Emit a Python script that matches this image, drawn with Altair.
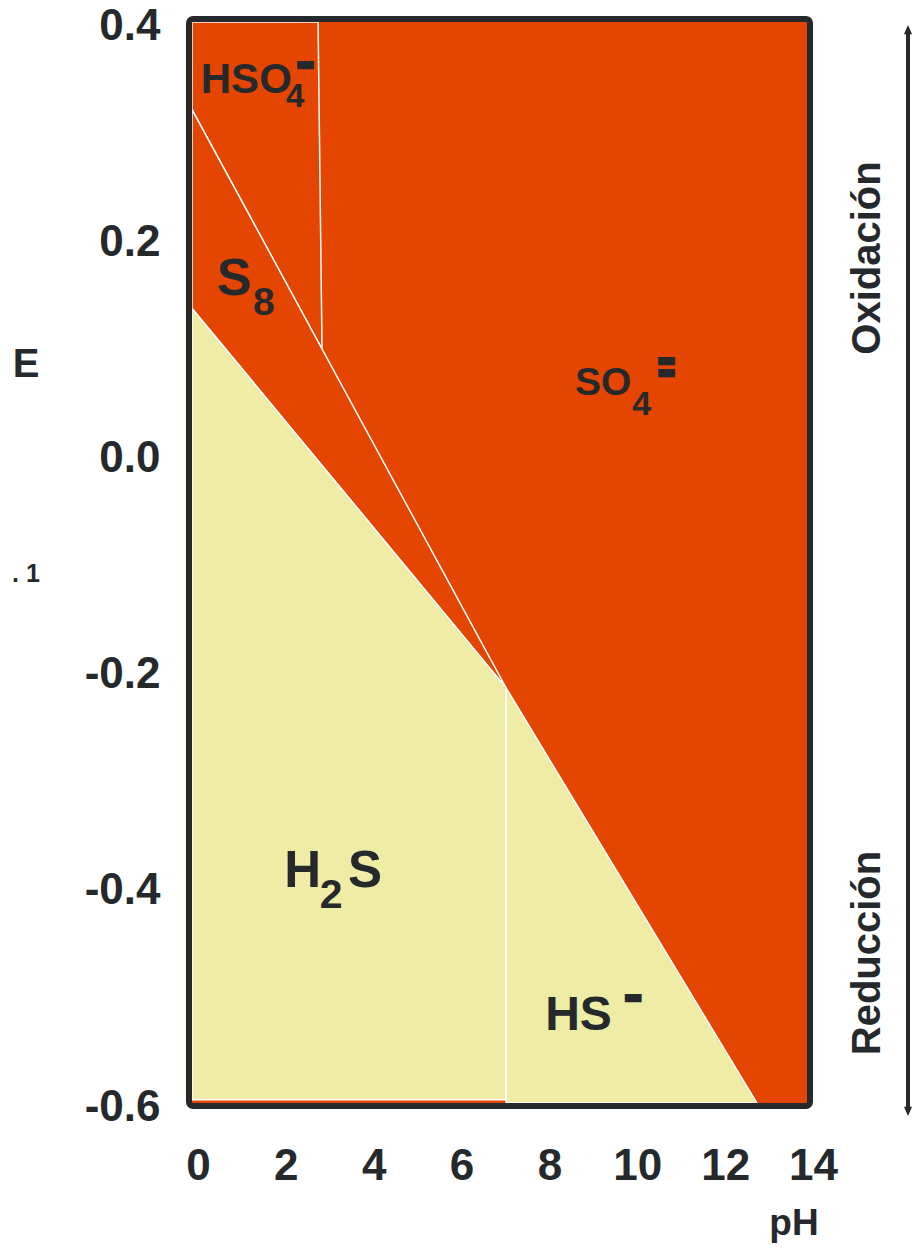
import altair as alt
import pandas as pd

# ---- axis ticks ----
ph_ticks = [0, 2, 4, 6, 8, 10, 12, 14]
e_ticks = [-0.6, -0.4, -0.2, 0.0, 0.2, 0.4]

# ---- stability fields (pH, E vertices) ----
hso4_ph = [0, 2.87, 2.96, 0]
hso4_e = [0.4, 0.4, 0.097, 0.319]
s8_ph = [0, 7.15, 0]
s8_e = [0.319, -0.216, 0.135]
h2s_ph = [0, 7.15, 7.15, 0]
h2s_e = [0.135, -0.216, -0.597, -0.597]
hs_ph = [7.15, 12.86, 7.15]
hs_e = [-0.216, -0.6, -0.6]

# ---- species labels ----
lab_text = ["HSO", "S", "SO", "H", "S", "HS"]
lab_ph = [0.2, 0.57, 8.72, 2.1, 3.55, 8.04]
lab_e = [0.334, 0.1475, 0.055, -0.400, -0.400, -0.5325]
lab_size = [42, 52, 39, 51, 51, 48]

sub_text = ["4", "8", "4", "2"]
sub_ph = [2.14, 1.39, 10.02, 2.91]
sub_e = [0.321, 0.129, 0.0364, -0.4196]
sub_size = [33, 39, 34, 41]

# charge bars (one per "-" and two for "=")
chg_ph = [2.58, 10.8, 10.8, 10.04]
chg_e = [0.361, 0.0869, 0.0762, -0.502]

RED = "#e44500"
YELLOW = "#eeeca5"
INK = "#25292c"
FONT = "Liberation Sans"

W, H = 615, 1081

xs = alt.Scale(domain=[0, 14], nice=False, zero=False)
ys = alt.Scale(domain=[-0.6, 0.4], nice=False, zero=False)
xaxis = alt.Axis(values=ph_ticks, format="d", title=None, ticks=False, domain=False,
                 grid=False, labelFontSize=44, labelFont=FONT, labelFontWeight="bold",
                 labelColor=INK, labelPadding=41, labelOffset=6, labelFlush=False)
yaxis = alt.Axis(values=e_ticks, title=None, ticks=False, domain=False, grid=False,
                 labelExpr="replace(format(datum.value, '.1f'), '\u2212', '-')",
                 labelFontSize=44, labelFont=FONT, labelFontWeight="bold",
                 labelColor=INK, labelPadding=32, labelOffset=4, labelFlush=False)


def X():
    return alt.X("ph:Q", scale=xs, axis=xaxis)


def Y():
    return alt.Y("e:Q", scale=ys, axis=yaxis)


def polygon(phs, es, fill):
    phs = list(phs) + [phs[0]]
    es = list(es) + [es[0]]
    df = pd.DataFrame({"ph": phs, "e": es, "k": list(range(len(phs)))})
    return alt.Chart(df).mark_line(fill=fill, stroke="white", strokeWidth=1.5,
                                   strokeJoin="miter").encode(
        x=X(), y=Y(), order="k:O")


# SO4= field fills the whole window
bg = alt.Chart(pd.DataFrame({"ph": [0], "ph2": [14], "e": [-0.6], "e2": [0.4]})).mark_rect(
    color=RED).encode(x=X(), x2="ph2", y=Y(), y2="e2")

layers = [
    bg,
    polygon(hso4_ph, hso4_e, RED),
    polygon(s8_ph, s8_e, RED),
    polygon(h2s_ph, h2s_e, YELLOW),
    polygon(hs_ph, hs_e, YELLOW),
]

lab_df = pd.DataFrame({"t": lab_text, "ph": lab_ph, "e": lab_e, "s": lab_size})
for s in sorted(set(lab_size)):
    layers.append(alt.Chart(lab_df[lab_df.s == s]).mark_text(
        align="left", baseline="alphabetic", font=FONT, fontWeight="bold",
        fontSize=s, color=INK).encode(x=X(), y=Y(), text="t:N"))

sub_df = pd.DataFrame({"t": sub_text, "ph": sub_ph, "e": sub_e, "s": sub_size})
for s in sorted(set(sub_size)):
    layers.append(alt.Chart(sub_df[sub_df.s == s]).mark_text(
        align="left", baseline="alphabetic", font=FONT, fontWeight="bold",
        fontSize=s, color=INK).encode(x=X(), y=Y(), text="t:N"))

chg_df = pd.DataFrame({"ph": chg_ph, "e": chg_e, "t": ["\u25ac"] * len(chg_ph)})
layers.append(alt.Chart(chg_df).mark_text(
    align="center", baseline="middle", font="DejaVu Sans", fontSize=22,
    color=INK).encode(x=X(), y=Y(), text="t:N"))

# frame
layers.append(alt.Chart(pd.DataFrame({"a": [0]})).mark_rect(
    filled=False, stroke=INK, strokeWidth=6, cornerRadius=4).encode(
    x=alt.value(-3), x2=alt.value(W + 3), y=alt.value(-3), y2=alt.value(H + 3)))

# oxidation / reduction arrow
AX = 716
layers.append(alt.Chart(pd.DataFrame({"a": [0]})).mark_rule(
    color=INK, strokeWidth=4).encode(
    x=alt.value(AX), y=alt.value(8), y2=alt.value(1090)))
layers.append(alt.Chart(pd.DataFrame({"a": [0]})).mark_point(
    shape="M-0.6,0.5L0,-0.9L0.6,0.5Z", filled=True, opacity=1, size=180, color=INK).encode(
    x=alt.value(AX), y=alt.value(9)))
layers.append(alt.Chart(pd.DataFrame({"a": [0]})).mark_point(
    shape="M-0.6,-0.5L0,0.9L0.6,-0.5Z", filled=True, opacity=1, size=180, color=INK).encode(
    x=alt.value(AX), y=alt.value(1088)))

side = pd.DataFrame({"t": ["Oxidación", "Reducción"], "yy": [236, 931]})
layers.append(alt.Chart(side).mark_text(
    angle=270, align="center", baseline="middle", font=FONT, fontWeight="bold",
    fontSize=40, color=INK).encode(
    x=alt.value(676), y=alt.Y("yy:Q", scale=None), text="t:N"))

# axis titles and stray mark
layers.append(alt.Chart(pd.DataFrame({"t": ["E"]})).mark_text(
    align="center", baseline="middle", font=FONT, fontWeight="bold", fontSize=40,
    color=INK).encode(x=alt.value(-166), y=alt.value(343), text="t:N"))
layers.append(alt.Chart(pd.DataFrame({"t": ["pH"]})).mark_text(
    align="center", baseline="alphabetic", font=FONT, fontWeight="bold", fontSize=37,
    color=INK).encode(x=alt.value(602), y=alt.value(1213), text="t:N"))
layers.append(alt.Chart(pd.DataFrame({"t": [". 1"]})).mark_text(
    align="left", baseline="alphabetic", font=FONT, fontWeight="bold", fontSize=25,
    color=INK).encode(x=alt.value(-180), y=alt.value(560), text="t:N"))

chart = alt.layer(*layers).properties(
    width=W, height=H,
    padding={"left": 192, "top": 22, "right": 106, "bottom": 149},
    autosize=alt.AutoSizeParams(type="none"),
    background="white",
).configure_view(stroke=None)

chart.save("out.html", embed_options={"renderer": "svg", "actions": False})
